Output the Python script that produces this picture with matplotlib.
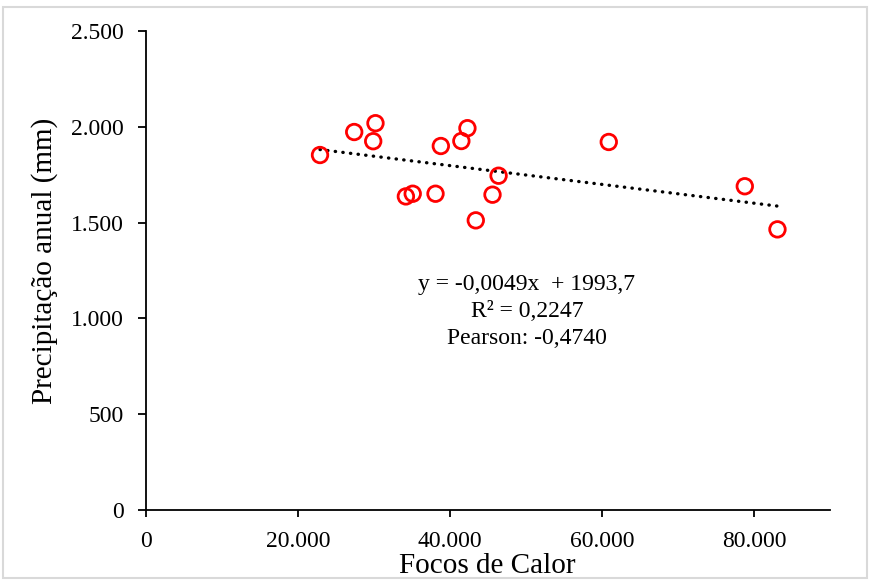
import matplotlib
matplotlib.use("Agg")
import matplotlib.pyplot as plt
import numpy as np
from matplotlib.ticker import FuncFormatter, MultipleLocator
from matplotlib.patches import Rectangle

# valores
focos = [22900, 27400, 30200, 29900, 34200, 35100, 38100, 38800,
         41500, 42300, 43400, 45600, 46400, 60900, 78800, 83100]
precip = [1853, 1973, 2019, 1925, 1637, 1651, 1651, 1900,
          1926, 1993, 1512, 1646, 1745, 1921, 1690, 1465]

slope = -0.0049
intercept = 1993.7
r2_txt = "0,2247"
pearson_txt = "-0,4740"

plt.rcParams['font.family'] = ['Liberation Serif', 'DejaVu Serif']

fig = plt.figure(figsize=(8.69, 5.81), dpi=100)
ax = fig.add_axes([0.168, 0.122, 0.787, 0.8246])

ax.scatter(focos, precip, s=125, facecolors='none', edgecolors='#ff0000',
           linewidths=2.0, zorder=3)

xs = np.array([min(focos), max(focos)])
ax.plot(xs, slope * xs + intercept, color='black', lw=2.4,
        linestyle=(0, (0.1, 2.2)), dash_capstyle='round', zorder=2)

ax.set_xlim(0, 90000)
ax.set_ylim(0, 2500)
ax.xaxis.set_major_locator(MultipleLocator(20000))
ax.yaxis.set_major_locator(MultipleLocator(500))
fmt = FuncFormatter(lambda v, p: f"{int(v):,}".replace(",", "."))
ax.xaxis.set_major_formatter(fmt)
ax.yaxis.set_major_formatter(fmt)

for s in ['top', 'right']:
    ax.spines[s].set_visible(False)
for s in ['left', 'bottom']:
    ax.spines[s].set_linewidth(1.3)
ax.tick_params(axis='both', labelsize=17, width=1.3, direction='out')
ax.tick_params(axis='y', length=6, pad=10)
ax.tick_params(axis='x', length=5, pad=10)

ax.set_xlabel("Focos de Calor", fontsize=21)
ax.set_ylabel("Precipitação anual (mm)", fontsize=21)
ax.xaxis.set_label_coords(0.499, -0.09)
ax.yaxis.set_label_coords(-0.128, 0.52)

ax.text(0.557, 0.415,
        "y = -0,0049x  + 1993,7\nR² = " + r2_txt + "\nPearson: " + pearson_txt,
        transform=ax.transAxes, ha='center', va='center', fontsize=17,
        linespacing=1.38)

fig.patches.append(Rectangle((0.004, 0.006), 0.994, 0.982, transform=fig.transFigure,
                             fill=False, edgecolor='#d9d9d9', lw=1.5))

fig.savefig("out.png", dpi=100)
